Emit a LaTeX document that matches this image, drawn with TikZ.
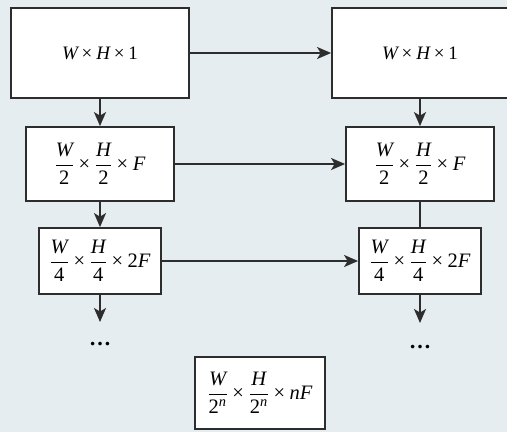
\documentclass[tikz,border=0pt]{standalone}
\usepackage{fontspec}
\setmainfont{Liberation Serif}
\usetikzlibrary{arrows.meta}
\definecolor{bgc}{RGB}{230,237,241}
\definecolor{linec}{RGB}{45,45,45}
\newcommand{\tm}{\mathbin{\mbox{×}}}
\newcommand{\iv}[1]{\mbox{\itshape #1}}
\newcommand{\up}[1]{\mbox{#1}}
\newcommand{\fr}[2]{{\displaystyle\frac{#1}{#2}}}
\newcommand{\pw}{\mbox{2\textsuperscript{\itshape n}}}
\tikzset{
  box/.style={draw=linec, fill=white, line width=1.8pt, inner sep=0pt, align=center,
    font=\fontsize{19}{22}\selectfont},
  fbox/.style={box, font=\fontsize{20.5}{24}\selectfont},
  arr/.style={draw=linec, line width=1.8pt, -{Stealth[length=14pt,width=12pt,inset=3.5pt]}},
  ln/.style={draw=linec, line width=1.8pt},
  dots/.style={inner sep=0pt, font=\fontsize{22}{24}\selectfont\bfseries}
}
\begin{document}
\begin{tikzpicture}[x=1pt,y=-1pt]
\fill[bgc] (0,0) rectangle (507,432);
\useasboundingbox (0,0) rectangle (507,432);
\node[box, minimum width=178pt, minimum height=90pt] (A1) at (100,53) {$\iv{W}\tm\iv{H}\tm\up{1}$};
\node[box, minimum width=176pt, minimum height=90pt] (B1) at (420,53) {$\iv{W}\tm\iv{H}\tm\up{1}$};
\node[fbox, minimum width=148pt, minimum height=74pt] (A2) at (100,164) {$\fr{\iv{W}}{\up{2}}\tm\fr{\iv{H}}{\up{2}}\tm\iv{F}$};
\node[fbox, minimum width=148pt, minimum height=74pt] (B2) at (420,164) {$\fr{\iv{W}}{\up{2}}\tm\fr{\iv{H}}{\up{2}}\tm\iv{F}$};
\node[fbox, minimum width=122pt, minimum height=66pt] (A3) at (100,261) {$\fr{\iv{W}}{\up{4}}\tm\fr{\iv{H}}{\up{4}}\tm\up{2}\iv{F}$};
\node[fbox, minimum width=122pt, minimum height=66pt] (B3) at (420,261) {$\fr{\iv{W}}{\up{4}}\tm\fr{\iv{H}}{\up{4}}\tm\up{2}\iv{F}$};
\node[fbox, minimum width=130pt, minimum height=72pt] (C) at (260,393) {$\fr{\iv{W}}{\pw}\tm\fr{\iv{H}}{\pw}\tm\iv{nF}$};
\node[dots] (DA) at (100,344) {…};
\node[dots] (DB) at (420,347) {…};
\coordinate (EA) at (100,322);
\coordinate (EB) at (420,323);
\draw[arr] (A1) -- (B1);
\draw[arr] (A2) -- (B2);
\draw[arr] (A3) -- (B3);
\draw[arr] (A1) -- (A2);
\draw[arr] (A2) -- (A3);
\draw[arr] (A3) -- (EA);
\draw[arr] (B1) -- (B2);
\draw[ln] (B2) -- (B3);
\draw[arr] (B3) -- (EB);
\end{tikzpicture}
\end{document}
